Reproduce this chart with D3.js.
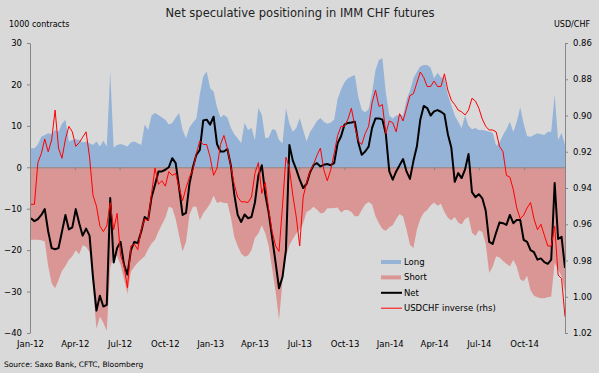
<!DOCTYPE html>
<html>
<head>
<meta charset="utf-8">
<script src="https://cdn.jsdelivr.net/npm/d3@7"></script>
<style>
  body { margin: 0; background: #fff; }
  svg { display: block; }
  text { font-family: "DejaVu Sans", Verdana, sans-serif; }
</style>
</head>
<body>
<svg id="chart" width="599" height="375"></svg>
<script>
// weekly CFTC data, first report of 2012
var firstWeek = new Date(2012, 0, 3);

// long positions, 1000 contracts
var longPos = [4.6,4.6,5.5,7.4,7.8,8.2,8.0,9.0,8.6,10.5,
  11.5,6.2,6.6,6.8,6.6,6.0,6.2,5.8,5.4,6.2,
  5.0,6.4,5.0,23.1,4.7,5.4,5.6,5.4,5.0,6.0,
  6.2,5.8,5.4,10.3,9.0,12.5,13.1,12.6,12.0,11.5,
  10.3,10.7,12.0,13.1,9.0,7.0,9.6,10.8,11.8,17.5,
  21.9,23.1,19.1,18.3,14.5,12.0,12.7,12.0,9.6,8.0,
  7.0,5.8,10.7,9.0,9.5,6.6,14.3,12.7,7.0,7.2,
  9.2,9.0,6.6,5.8,14.3,10.5,8.6,9.5,11.9,9.0,
  6.2,8.5,9.8,11.2,11.9,11.0,10.5,10.8,11.5,16.5,
  18.8,20.5,21.5,21.9,22.3,17.0,13.9,13.3,14.0,18.0,
  23.5,25.9,26.3,18.0,12.5,11.8,12.5,12.6,12.5,16.3,
  18.5,21.5,23.0,24.3,24.7,24.7,24.0,21.5,22.8,21.7,
  21.5,17.5,15.0,12.5,11.0,9.5,12.5,10.0,9.2,9.5,
  9.0,9.0,8.8,8.6,8.4,5.2,6.0,7.8,9.2,11.0,
  8.5,11.0,14.5,10.5,7.5,7.4,7.8,8.2,8.0,7.8,
  8.6,8.6,17.5,6.6,8.3,5.4];

// short positions (negative)
var shortPos = [-17.5,-17.5,-17.5,-17.6,-17.9,-23.9,-28.0,-29.2,-27.2,-25.0,
  -23.8,-22.3,-21.5,-20.0,-21.0,-18.8,-19.2,-20.5,-29.0,-39.0,
  -36.0,-37.5,-39.5,-24.3,-21.0,-21.5,-23.5,-27.0,-30.5,-25.2,
  -24.0,-23.0,-22.2,-21.5,-19.8,-18.4,-17.5,-15.5,-13.8,-12.2,
  -9.5,-9.8,-12.5,-16.5,-20.3,-18.0,-11.5,-9.5,-9.5,-12.8,
  -11.1,-10.0,-8.8,-6.8,-8.6,-8.3,-8.6,-8.6,-12.0,-16.8,
  -19.0,-20.8,-21.6,-21.3,-20.0,-17.0,-16.0,-14.0,-15.9,-19.0,
  -24.5,-30.0,-36.8,-27.5,-21.5,-18.8,-17.3,-16.0,-15.0,-13.5,
  -10.8,-10.3,-9.5,-10.2,-11.1,-11.0,-9.9,-9.9,-9.8,-9.7,
  -10.9,-10.3,-10.3,-10.8,-11.8,-11.8,-10.3,-9.0,-8.4,-9.0,
  -11.8,-13.5,-14.9,-15.3,-14.5,-14.0,-12.5,-11.3,-11.9,-15.0,
  -18.7,-19.5,-15.1,-12.5,-11.0,-10.3,-9.2,-8.5,-9.3,-8.8,
  -10.8,-12.2,-12.8,-12.0,-13.3,-13.8,-12.5,-12.0,-15.8,-16.6,
  -15.2,-15.6,-18.5,-25.5,-24.0,-21.5,-21.8,-22.6,-23.3,-23.9,
  -22.3,-24.0,-27.0,-27.5,-26.2,-29.7,-31.0,-31.4,-31.6,-31.6,
  -31.4,-31.2,-23.1,-24.6,-26.3,-30.0];

// net positions
var netPos = [-12.3,-13.0,-12.5,-11.5,-10.1,-15.5,-19.5,-19.8,-19.5,-15.5,
  -11.5,-15.0,-14.5,-10.1,-13.5,-16.5,-14.8,-16.5,-26.5,-34.6,
  -31.0,-33.6,-33.2,-7.4,-23.0,-19.5,-18.0,-23.5,-25.9,-20.0,
  -18.0,-18.3,-15.5,-12.0,-12.7,-7.2,-4.2,-1.0,-1.0,-0.6,
  0.0,2.2,1.0,-5.0,-11.5,-11.0,-4.0,0.0,3.0,4.2,
  11.3,11.5,10.3,12.2,5.6,3.8,3.8,4.4,0.5,-6.5,
  -11.5,-13.2,-11.4,-12.3,-12.0,-8.5,-2.0,0.5,-6.5,-11.0,
  -17.0,-23.0,-29.2,-26.5,-20.0,5.4,1.6,-0.5,-3.0,-5.0,
  -4.0,-1.2,0.5,1.0,0.2,0.6,0.8,0.5,1.0,5.8,
  7.5,10.3,10.7,10.8,11.0,6.0,3.0,3.8,5.0,9.5,
  11.8,11.8,11.5,8.0,-1.0,-3.0,-1.0,0.5,2.0,-1.0,
  -2.8,1.5,5.0,11.5,14.8,14.3,12.5,13.5,13.8,13.4,
  12.8,8.0,4.8,-3.5,-1.4,-2.6,-0.5,3.2,-6.0,-7.2,
  -6.5,-7.5,-10.5,-18.0,-18.5,-15.8,-13.3,-13.5,-13.9,-11.5,
  -13.5,-12.7,-12.7,-17.5,-18.0,-20.0,-20.5,-22.3,-22.0,-22.9,
  -23.3,-22.3,-3.8,-17.3,-16.8,-24.3];

// USD/CHF spot, plotted on an inverted right axis
var usdchf = [0.949,0.949,0.926,0.921,0.913,0.920,0.9135,0.897,0.918,0.9236,
  0.913,0.906,0.909,0.917,0.915,0.912,0.909,0.923,0.944,0.950,
  0.961,0.964,0.961,0.948,0.963,0.954,0.977,0.983,0.995,0.972,
  0.971,0.974,0.963,0.957,0.958,0.943,0.929,0.938,0.936,0.939,
  0.931,0.933,0.932,0.940,0.947,0.940,0.934,0.930,0.921,0.914,
  0.916,0.916,0.923,0.933,0.929,0.916,0.911,0.918,0.928,0.938,
  0.945,0.9476,0.9476,0.948,0.945,0.932,0.926,0.943,0.937,0.952,
  0.964,0.972,0.975,0.950,0.923,0.929,0.944,0.956,0.972,0.945,
  0.937,0.931,0.927,0.922,0.918,0.930,0.936,0.930,0.921,0.911,
  0.906,0.906,0.902,0.896,0.906,0.914,0.916,0.910,0.906,0.893,
  0.886,0.895,0.894,0.910,0.903,0.904,0.909,0.899,0.903,0.896,
  0.889,0.888,0.882,0.876,0.879,0.884,0.884,0.881,0.884,0.884,
  0.877,0.886,0.8915,0.894,0.897,0.898,0.8997,0.897,0.8905,0.892,
  0.896,0.902,0.906,0.908,0.908,0.909,0.917,0.920,0.933,0.934,
  0.941,0.951,0.957,0.955,0.951,0.948,0.957,0.963,0.960,0.966,
  0.972,0.972,0.961,0.988,0.990,1.011];

var leftTicks = [30, 20, 10, 0, -10, -20, -30, -40];
var rightTicks = [0.86, 0.88, 0.90, 0.92, 0.94, 0.96, 0.98, 1.00, 1.02];
var seriesNames = ["Long", "Short", "Net", "USDCHF inverse (rhs)"];

var colLong = "#95b3d7", colShort = "#da9694", colAxis = "#868686";

var svg = d3.select("#chart");

// grey chart background, thin white strip left at the bottom
svg.append("rect").attr("width", 599).attr("height", 373).attr("fill", "#d9d9d9");

var dates = longPos.map(function(d, i) { return d3.timeDay.offset(firstWeek, 7 * i); });

var x = d3.scaleTime()
    .domain([new Date(2012, 0, 1), dates[dates.length - 1]])
    .range([30, 565]);
var y = d3.scaleLinear().domain([-40, 30]).range([333, 43]);
var y2 = d3.scaleLinear().domain([0.86, 1.02]).range([43, 333]); // inverted fx axis

function rows(vals) {
  return vals.map(function(v, i) { return {date: dates[i], v: v}; });
}

var area = d3.area()
    .x(function(d) { return x(d.date); })
    .y0(y(0))
    .y1(function(d) { return y(d.v); });

svg.append("path").datum(rows(longPos)).attr("fill", colLong).attr("d", area);
svg.append("path").datum(rows(shortPos)).attr("fill", colShort).attr("d", area);

// axis along the zero line, ticks only
var zeroAxis = svg.append("g")
    .attr("transform", "translate(0," + y(0) + ")")
    .call(d3.axisBottom(x).ticks(d3.timeMonth.every(3)).tickSize(3).tickSizeOuter(0).tickFormat(""));
zeroAxis.selectAll("path, line").attr("stroke", colAxis);

// month labels at the bottom
var labAxis = svg.append("g")
    .attr("transform", "translate(0,338)")
    .call(d3.axisBottom(x).ticks(d3.timeMonth.every(3)).tickSize(0).tickPadding(3)
      .tickFormat(d3.timeFormat("%b-%y")));
labAxis.select(".domain").remove();
labAxis.selectAll("text").attr("font-size", 8.5).attr("fill", "#000");

var netLine = d3.line()
    .x(function(d) { return x(d.date); })
    .y(function(d) { return y(d.v); });
svg.append("path").datum(rows(netPos))
    .attr("fill", "none").attr("stroke", "#000").attr("stroke-width", 2)
    .attr("stroke-linejoin", "round").attr("d", netLine);

var fxLine = d3.line()
    .x(function(d) { return x(d.date); })
    .y(function(d) { return y2(d.v); });
svg.append("path").datum(rows(usdchf))
    .attr("fill", "none").attr("stroke", "#ff0000").attr("stroke-width", 1)
    .attr("d", fxLine);

// left axis
var yAxis = svg.append("g")
    .attr("transform", "translate(30,0)")
    .call(d3.axisLeft(y).tickValues(leftTicks).tickSize(3).tickSizeOuter(0).tickPadding(5));
yAxis.selectAll("path, line").attr("stroke", colAxis);
yAxis.selectAll("text").attr("font-size", 8.5).attr("fill", "#000");

// right axis
var y2Axis = svg.append("g")
    .attr("transform", "translate(565,0)")
    .call(d3.axisRight(y2).tickValues(rightTicks).tickSize(3).tickSizeOuter(0).tickPadding(5)
      .tickFormat(d3.format(".2f")));
y2Axis.selectAll("path, line").attr("stroke", colAxis);
y2Axis.selectAll("text").attr("font-size", 8.5).attr("fill", "#000");

// titles
svg.append("text").attr("x", 300).attr("y", 17).attr("text-anchor", "middle")
    .attr("font-size", 11.5).attr("fill", "#222")
    .text("Net speculative positioning in IMM CHF futures");
svg.append("text").attr("x", 9).attr("y", 27).attr("font-size", 8).attr("fill", "#000")
    .text("1000 contracts");
svg.append("text").attr("x", 590).attr("y", 27).attr("text-anchor", "end")
    .attr("font-size", 8).attr("fill", "#000").text("USD/CHF");
svg.append("text").attr("x", 4).attr("y", 367).attr("font-size", 7.5).attr("fill", "#000")
    .text("Source: Saxo Bank, CFTC, Bloomberg");

// legend
var legend = svg.append("g").attr("transform", "translate(381,262)");
var item = legend.selectAll("g").data(seriesNames).enter().append("g")
    .attr("transform", function(d, i) { return "translate(0," + (i * 15.4) + ")"; });
item.each(function(d, i) {
  var g = d3.select(this);
  if (i < 2) {
    g.append("rect").attr("x", 0).attr("y", -2).attr("width", 20).attr("height", 4)
      .attr("fill", i === 0 ? colLong : colShort);
  } else {
    g.append("line").attr("x1", 0).attr("x2", 21).attr("y1", 0).attr("y2", 0)
      .attr("stroke", i === 2 ? "#000" : "#ff0000").attr("stroke-width", i === 2 ? 2 : 1);
  }
  g.append("text").attr("x", 23).attr("dy", "0.35em").attr("font-size", 8.5)
    .attr("fill", "#000").text(d);
});
</script>
</body>
</html>
